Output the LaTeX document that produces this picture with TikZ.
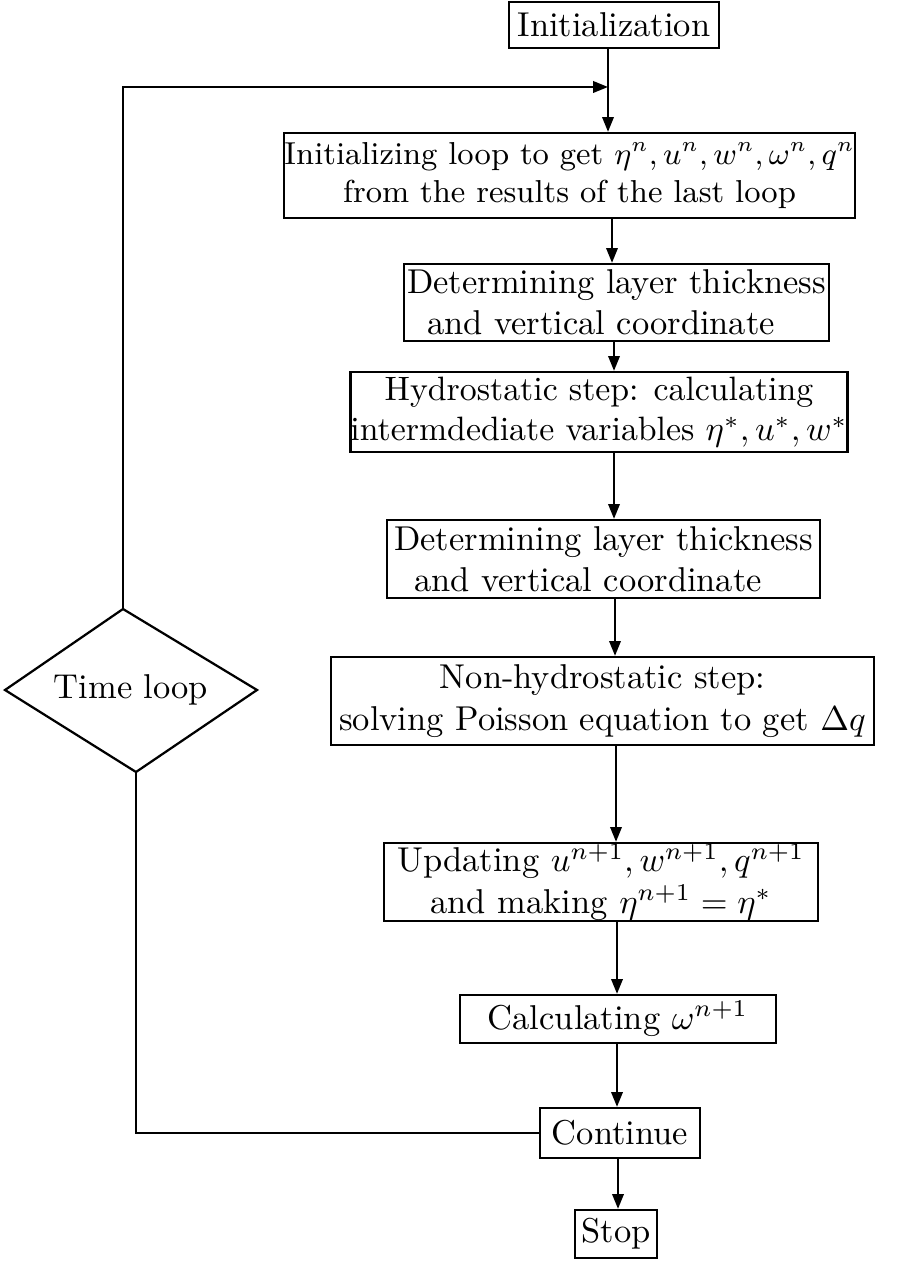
\documentclass[tikz,border=0pt]{standalone}
\usetikzlibrary{arrows.meta}
\newcommand\pxu{0.29pt}
\begin{document}
\begin{tikzpicture}[x=0.29pt,y=-0.29pt,
  box/.style={draw,line width=0.65pt,inner sep=0pt,align=center},
  arr/.style={line width=0.65pt,-{Triangle[length=4.3pt,width=3.3pt]}},
  conn/.style={line width=0.65pt}]
\useasboundingbox (0,0) rectangle (911,1262);
\node[box,minimum width=210*\pxu,minimum height=46*\pxu] (init) at (614,25) {Initialization};
\node[box,minimum width=565*\pxu,minimum height=85*\pxu,font=\fontsize{9.2}{11}\selectfont] (b2) at (569.5,175.5) {Initializing loop to get $\eta^n,u^n,w^n,\omega^n,q^n$\\from the results of the last loop};
\node[box,minimum width=425*\pxu,minimum height=77*\pxu] (b3) at (616.5,302.5) {Determining layer thickness\\and vertical coordinate\hspace*{9pt}};
\node[box,minimum width=494*\pxu,minimum height=80*\pxu,font=\fontsize{9.8}{11.8}\selectfont] (b4) at (599,412) {Hydrostatic step: calculating\\intermdediate variables $\eta^*,u^*,w^*$};
\node[box,minimum width=433*\pxu,minimum height=78*\pxu] (b5) at (603.5,559) {Determining layer thickness\\and vertical coordinate\hspace*{9pt}};
\node[box,minimum width=543*\pxu,minimum height=88*\pxu] (b6) at (602.5,701) {Non-hydrostatic step:\\solving Poisson equation to get $\Delta q$};
\node[box,minimum width=434*\pxu,minimum height=78*\pxu] (b7) at (601,882) {Updating $u^{n+1},w^{n+1},q^{n+1}$\\and making $\eta^{n+1}=\eta^*$};
\node[box,minimum width=316*\pxu,minimum height=48*\pxu] (b8) at (618,1019) {Calculating $\omega^{n+1}$};
\node[box,minimum width=160*\pxu,minimum height=50*\pxu] (cont) at (620,1133) {Continue};
\node[box,minimum width=82*\pxu,minimum height=48*\pxu] (stop) at (616,1234) {Stop};
% diamond
\coordinate (dt) at (123,609);
\coordinate (dl) at (5,690);
\coordinate (dr) at (257,690);
\coordinate (db) at (136,772);
\draw[conn] (dt) -- (dr) -- (db) -- (dl) -- cycle;
\node (tl) at (131,690) {Time loop};
% connector columns
\coordinate (a1) at (608,0);
\coordinate (a2) at (612,0);
\coordinate (a3) at (614,0);
\coordinate (a4) at (614,0);
\coordinate (a5) at (615,0);
\coordinate (a6) at (616,0);
\coordinate (a7) at (617,0);
\coordinate (a8) at (617,0);
\coordinate (a9) at (618,0);
\coordinate (loopin) at (608,87);
\coordinate (looptop) at (123,87);
\coordinate (retcorner) at (136,1133);
\draw[arr] (init.south -| a1) -- (b2.north -| a1);
\draw[arr] (dt) -- (looptop) -- (loopin);
\draw[arr] (b2.south -| a2) -- (b3.north -| a2);
\draw[arr] (b3.south -| a3) -- (b4.north -| a3);
\draw[arr] (b4.south -| a4) -- (b5.north -| a4);
\draw[arr] (b5.south -| a5) -- (b6.north -| a5);
\draw[arr] (b6.south -| a6) -- (b7.north -| a6);
\draw[arr] (b7.south -| a7) -- (b8.north -| a7);
\draw[arr] (b8.south -| a8) -- (cont.north -| a8);
\draw[arr] (cont.south -| a9) -- (stop.north -| a9);
\draw[conn] (cont.west) -- (retcorner) -- (db);
\end{tikzpicture}
\end{document}
